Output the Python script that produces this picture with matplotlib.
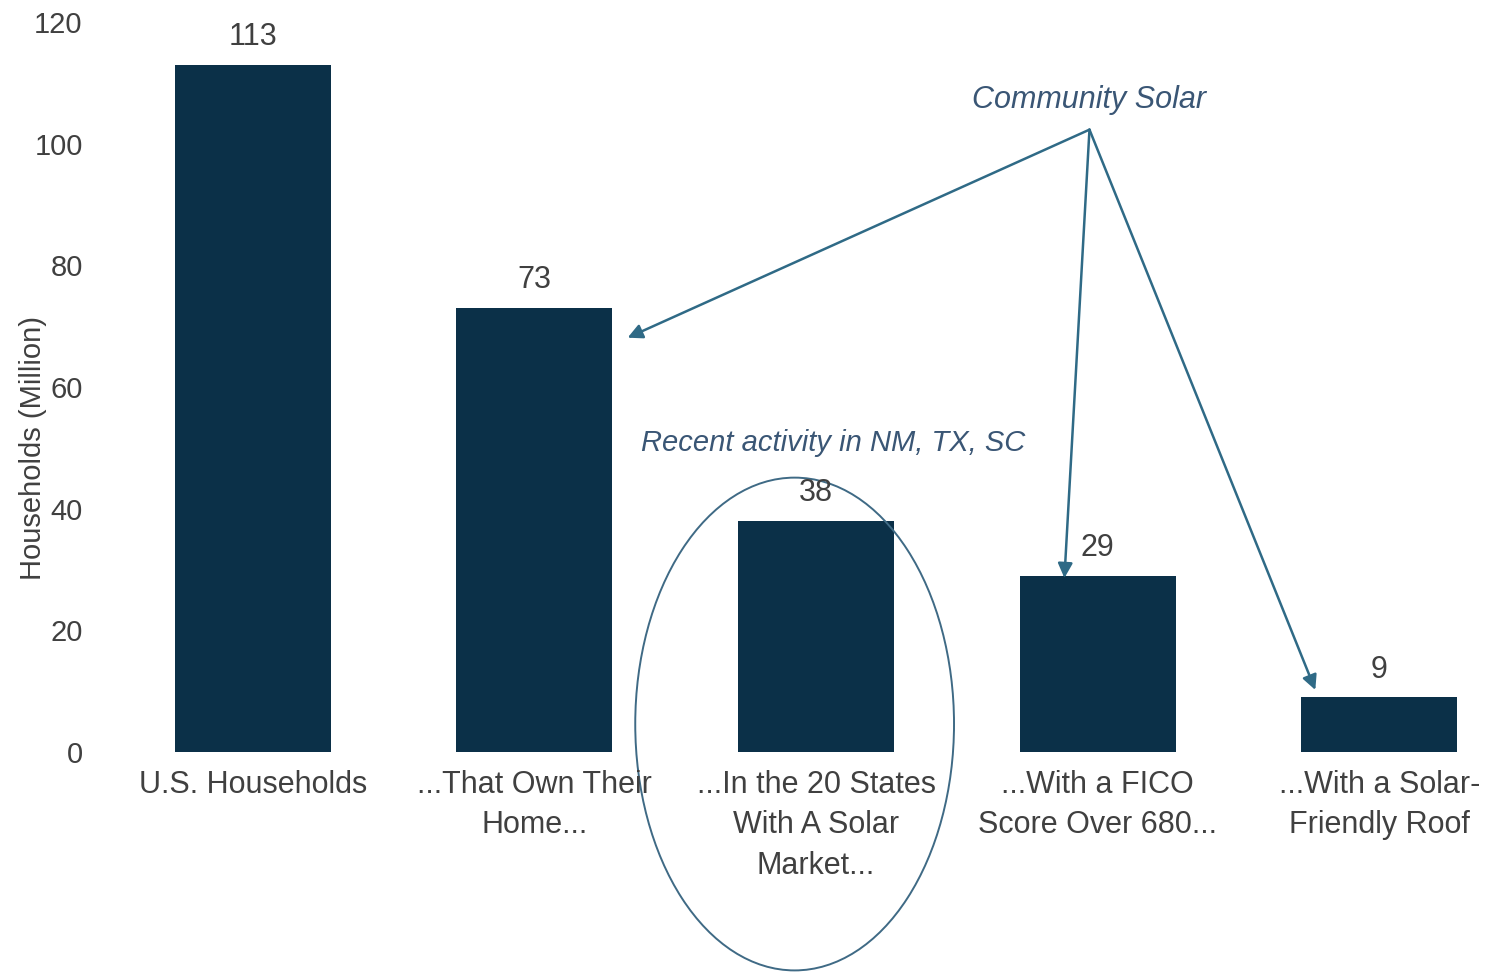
import matplotlib.pyplot as plt
from matplotlib.patches import Ellipse

plt.rcParams['font.family'] = ['Liberation Sans', 'DejaVu Sans']

categories = [
    "U.S. Households",
    "...That Own Their\nHome...",
    "...In the 20 States\nWith A Solar\nMarket...",
    "...With a FICO\nScore Over 680...",
    "...With a Solar-\nFriendly Roof",
]
households = [113, 73, 38, 29, 9]

bar_color = "#0b3048"
text_color = "#404040"
note_color = "#3a5675"
arrow_color = "#2f6a86"

fig = plt.figure(figsize=(14.91, 9.76), dpi=100)
ax = fig.add_axes([0.0657, 0.2295, 0.916, 0.748])

x = list(range(len(categories)))
bars = ax.bar(x, households, width=0.554, color=bar_color)

# value labels on top of each bar
for xi, val in zip(x, households):
    ax.annotate(str(val), (xi, val), xytext=(0, 9), textcoords="offset points",
                ha="center", va="bottom", fontsize=22, color=text_color)

ax.set_xlim(-0.55, 4.3)
ax.set_ylim(0, 120)
ax.set_yticks(range(0, 121, 20))
ax.set_xticks(x)
ax.set_xticklabels(categories, fontsize=22, color=text_color, linespacing=1.45)
ax.tick_params(axis="y", labelsize=21, labelcolor=text_color, length=0, pad=11)
ax.tick_params(axis="x", length=0, pad=13)
for s in ax.spines.values():
    s.set_visible(False)

ax.set_ylabel("Households (Million)", fontsize=21, color=text_color)
ax.yaxis.set_label_coords(-0.037, 0.416)

# community solar callouts
src = (2.971, 102.3)
ax.text(src[0], 107.2, "Community Solar", ha="center", va="center",
        fontsize=22, style="italic", color=note_color)
targets = [(1.331, 68.1), (2.882, 28.6), (3.773, 10.2)]
for tx, ty in targets:
    ax.annotate("", xy=(tx, ty), xytext=src,
                arrowprops=dict(arrowstyle="-|>", color=arrow_color, lw=1.8,
                                mutation_scale=22, shrinkA=0, shrinkB=0))

ax.text(2.059, 50.8, "Recent activity in NM, TX, SC", ha="center", va="center",
        fontsize=21, style="italic", color=note_color)

ring = Ellipse((1.924, 4.6), 1.132, 81, fill=False, edgecolor="#3f6a85",
               lw=1.4, clip_on=False)
ax.add_patch(ring)

fig.savefig("out.png", dpi=100)
